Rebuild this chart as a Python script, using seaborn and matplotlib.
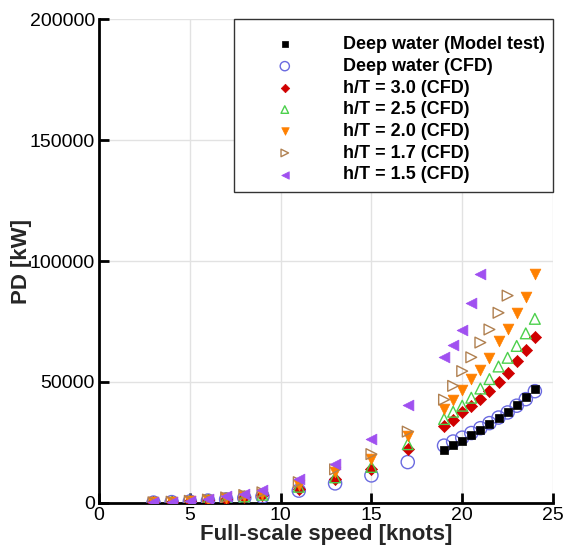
import matplotlib
matplotlib.use("Agg")
import matplotlib.pyplot as plt
import seaborn as sns
import pandas as pd
import numpy as np

sns.set_theme(style="white")
plt.rcParams['font.family'] = ['Liberation Sans', 'DejaVu Sans']

# ---- data ----
speeds_all = [3, 4, 5, 6, 7, 8, 9, 11, 13, 15, 17,
              19, 19.5, 20, 20.5, 21, 21.5, 22, 22.5, 23, 23.5, 24]
speeds_high = [19, 19.5, 20, 20.5, 21, 21.5, 22, 22.5, 23, 23.5, 24]
speeds_17 = [3, 4, 5, 6, 7, 8, 9, 11, 13, 15, 17,
             19, 19.5, 20, 20.5, 21, 21.5, 22, 22.5]
speeds_15 = [3, 4, 5, 6, 7, 8, 9, 11, 13, 15, 17,
             19, 19.5, 20, 20.5, 21]

model_test = [22100, 24000, 25600, 27900, 30000, 32500, 35300, 37700, 40500, 43700, 47300]
deep_cfd = [150, 350, 600, 1000, 1500, 2100, 2700, 5100, 8100, 11400, 16900,
            23700, 25400, 27000, 28900, 30900, 33000, 35300, 37400, 40200, 42900, 46200]
ht30 = [200, 420, 720, 1150, 1800, 2500, 3100, 5900, 10000, 14100, 22300,
        32000, 34400, 37400, 39900, 42900, 46200, 49800, 53600, 58600, 63200, 68400]
ht25 = [210, 440, 760, 1200, 1900, 2700, 3400, 6700, 10600, 14900, 24300,
        34700, 37700, 40200, 43500, 47300, 51200, 56400, 60000, 64900, 70100, 76100]
ht20 = [230, 480, 820, 1300, 2100, 3000, 3900, 7500, 12800, 18000, 27600,
        38800, 42400, 46800, 51200, 55000, 60000, 66800, 72000, 78600, 85200, 94500]
ht17 = [250, 520, 880, 1400, 2300, 3300, 4400, 8600, 13900, 20200, 29500,
        42700, 48400, 54500, 60200, 66300, 71700, 78600, 85700]
ht15 = [300, 600, 1000, 1700, 2700, 3700, 5400, 10000, 16200, 26600, 40600,
        60500, 65300, 71500, 82800, 94800]

labels = ["Deep water (Model test)", "Deep water (CFD)", "h/T = 3.0 (CFD)",
          "h/T = 2.5 (CFD)", "h/T = 2.0 (CFD)", "h/T = 1.7 (CFD)", "h/T = 1.5 (CFD)"]

series = [
    (speeds_high, model_test, 's', '#000000', True, 40),
    (speeds_all, deep_cfd, 'o', '#6a6ae0', False, 90),
    (speeds_all, ht30, 'D', '#d00000', True, 38),
    (speeds_all, ht25, '^', '#4cd04c', False, 60),
    (speeds_all, ht20, 'v', '#ff8000', True, 60),
    (speeds_17, ht17, '>', '#b08050', False, 60),
    (speeds_15, ht15, '<', '#a050f0', True, 60),
]

fig = plt.figure(figsize=(5.7, 5.45), dpi=100)
ax = fig.add_axes([0.1737, 0.0771, 0.7965, 0.8880])

order_z = [4, 3, 5, 5, 5, 5, 5]
for (xs, ys, mk, col, filled, size), lab, z in zip(series, labels, order_z):
    df = pd.DataFrame({"speed": xs, "pd": ys})
    if filled:
        sns.scatterplot(data=df, x="speed", y="pd", ax=ax, marker=mk, s=size,
                        color=col, edgecolor=col, linewidth=0.5, label=lab, zorder=z)
    else:
        sns.scatterplot(data=df, x="speed", y="pd", ax=ax, marker=mk, s=size,
                        facecolor='none', edgecolor=col, linewidth=1.0, label=lab, zorder=z)

ax.set_xlim(0, 25)
ax.set_ylim(0, 200000)
ax.set_xticks([0, 5, 10, 15, 20, 25])
ax.set_yticks([0, 50000, 100000, 150000, 200000])
ax.grid(True, color='#e2e2e2', linewidth=1.0)
ax.set_axisbelow(True)
for s in ['top', 'right']:
    ax.spines[s].set_visible(False)
for s in ['left', 'bottom']:
    ax.spines[s].set_color('black')
    ax.spines[s].set_linewidth(2.0)
ax.tick_params(axis='both', direction='in', length=7, width=2.0, color='black',
               labelsize=14, labelcolor='black', left=True, bottom=True)
ax.tick_params(axis='y', pad=3)
ax.tick_params(axis='x', pad=3)

ax.set_xlabel("Full-scale speed [knots]", fontsize=16, fontweight='bold', labelpad=0)
ax.set_ylabel("PD [kW]", fontsize=16, fontweight='bold')
ax.yaxis.set_label_coords(-0.147, 0.5)

leg = ax.legend(loc='upper right', bbox_to_anchor=(1.0, 1.0), borderaxespad=0,
                frameon=True, fancybox=False, edgecolor='#333333', framealpha=1,
                prop={'size': 13, 'weight': 'bold'}, markerscale=0.7,
                handlelength=4.65, handletextpad=0.88, borderpad=0.47, labelspacing=0.26,
                title=' ', title_fontsize=3)
leg.get_frame().set_linewidth(1.0)
for t in leg.get_texts():
    t.set_color('black')

fig.savefig("out.png", dpi=100)
